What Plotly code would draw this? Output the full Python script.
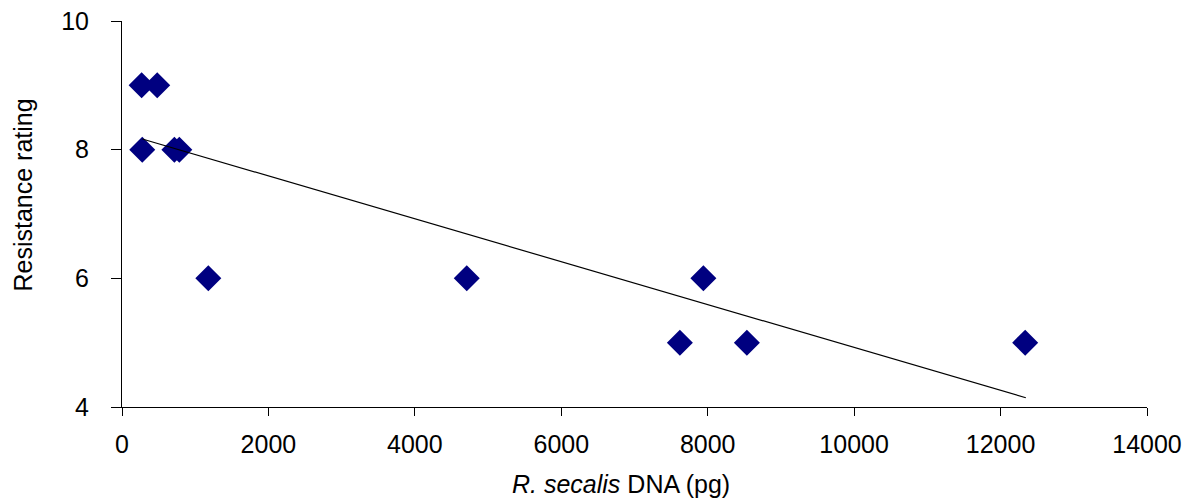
import plotly.graph_objects as go

# Data
dna_pg = [268, 481, 277, 715, 783, 1179, 4709, 7941, 7620, 8535, 12336]
rating = [9, 9, 8, 8, 8, 6, 6, 6, 5, 5, 5]

# Trend line as drawn in the reference (end points)
trend_x = [277, 12345]
trend_y = [8.166, 4.144]

x_ticks = [0, 2000, 4000, 6000, 8000, 10000, 12000, 14000]
y_ticks = [4, 6, 8, 10]

FONT = "Liberation Sans, Arial, sans-serif"

fig = go.Figure()
fig.add_trace(go.Scatter(
    x=dna_pg, y=rating, mode="markers",
    marker=dict(symbol="diamond", size=20, color="#000080", line=dict(width=0)),
    showlegend=False, cliponaxis=False,
))
fig.add_trace(go.Scatter(
    x=trend_x, y=trend_y, mode="lines",
    line=dict(color="black", width=1.2),
    showlegend=False,
))

fig.update_layout(
    width=1186, height=498,
    autosize=False,
    margin=dict(l=122, r=39, t=21, b=91, autoexpand=False),
    paper_bgcolor="white", plot_bgcolor="white",
    font=dict(family=FONT, size=25, color="black"),
    xaxis=dict(
        range=[0, 14000], tickvals=x_ticks, ticktext=[str(v) for v in x_ticks],
        showgrid=False, zeroline=False, showline=True, linecolor="black", linewidth=1,
        ticks="outside", ticklen=8, tickcolor="black", tickwidth=1, automargin=False,
        tickfont=dict(family=FONT, size=25, color="black"),
        ticklabelstandoff=7,
    ),
    yaxis=dict(
        range=[4, 10], tickvals=y_ticks, ticktext=[str(v) for v in y_ticks],
        showgrid=False, zeroline=False, showline=True, linecolor="black", linewidth=1,
        ticks="outside", ticklen=10, tickcolor="black", tickwidth=1, automargin=False,
        tickfont=dict(family=FONT, size=25, color="black"),
        ticklabelstandoff=17,
    ),
    annotations=[
        dict(text="<i>R. secalis</i> DNA (pg)", xref="paper", yref="paper",
             x=0.4868, y=-0.20, xanchor="center", yanchor="middle", showarrow=False,
             font=dict(family=FONT, size=25, color="black")),
        dict(text="Resistance rating", xref="paper", yref="paper",
             x=-0.0966, y=0.5505, xanchor="center", yanchor="middle", showarrow=False,
             textangle=-90, font=dict(family=FONT, size=25, color="black")),
    ],
)

# Remove the browser's default 8px body margin so the figure fills the window
fig.write_html(
    "out.html",
    config={"displayModeBar": False},
    post_script="document.body.style.margin='0';document.body.style.overflow='hidden';",
)
